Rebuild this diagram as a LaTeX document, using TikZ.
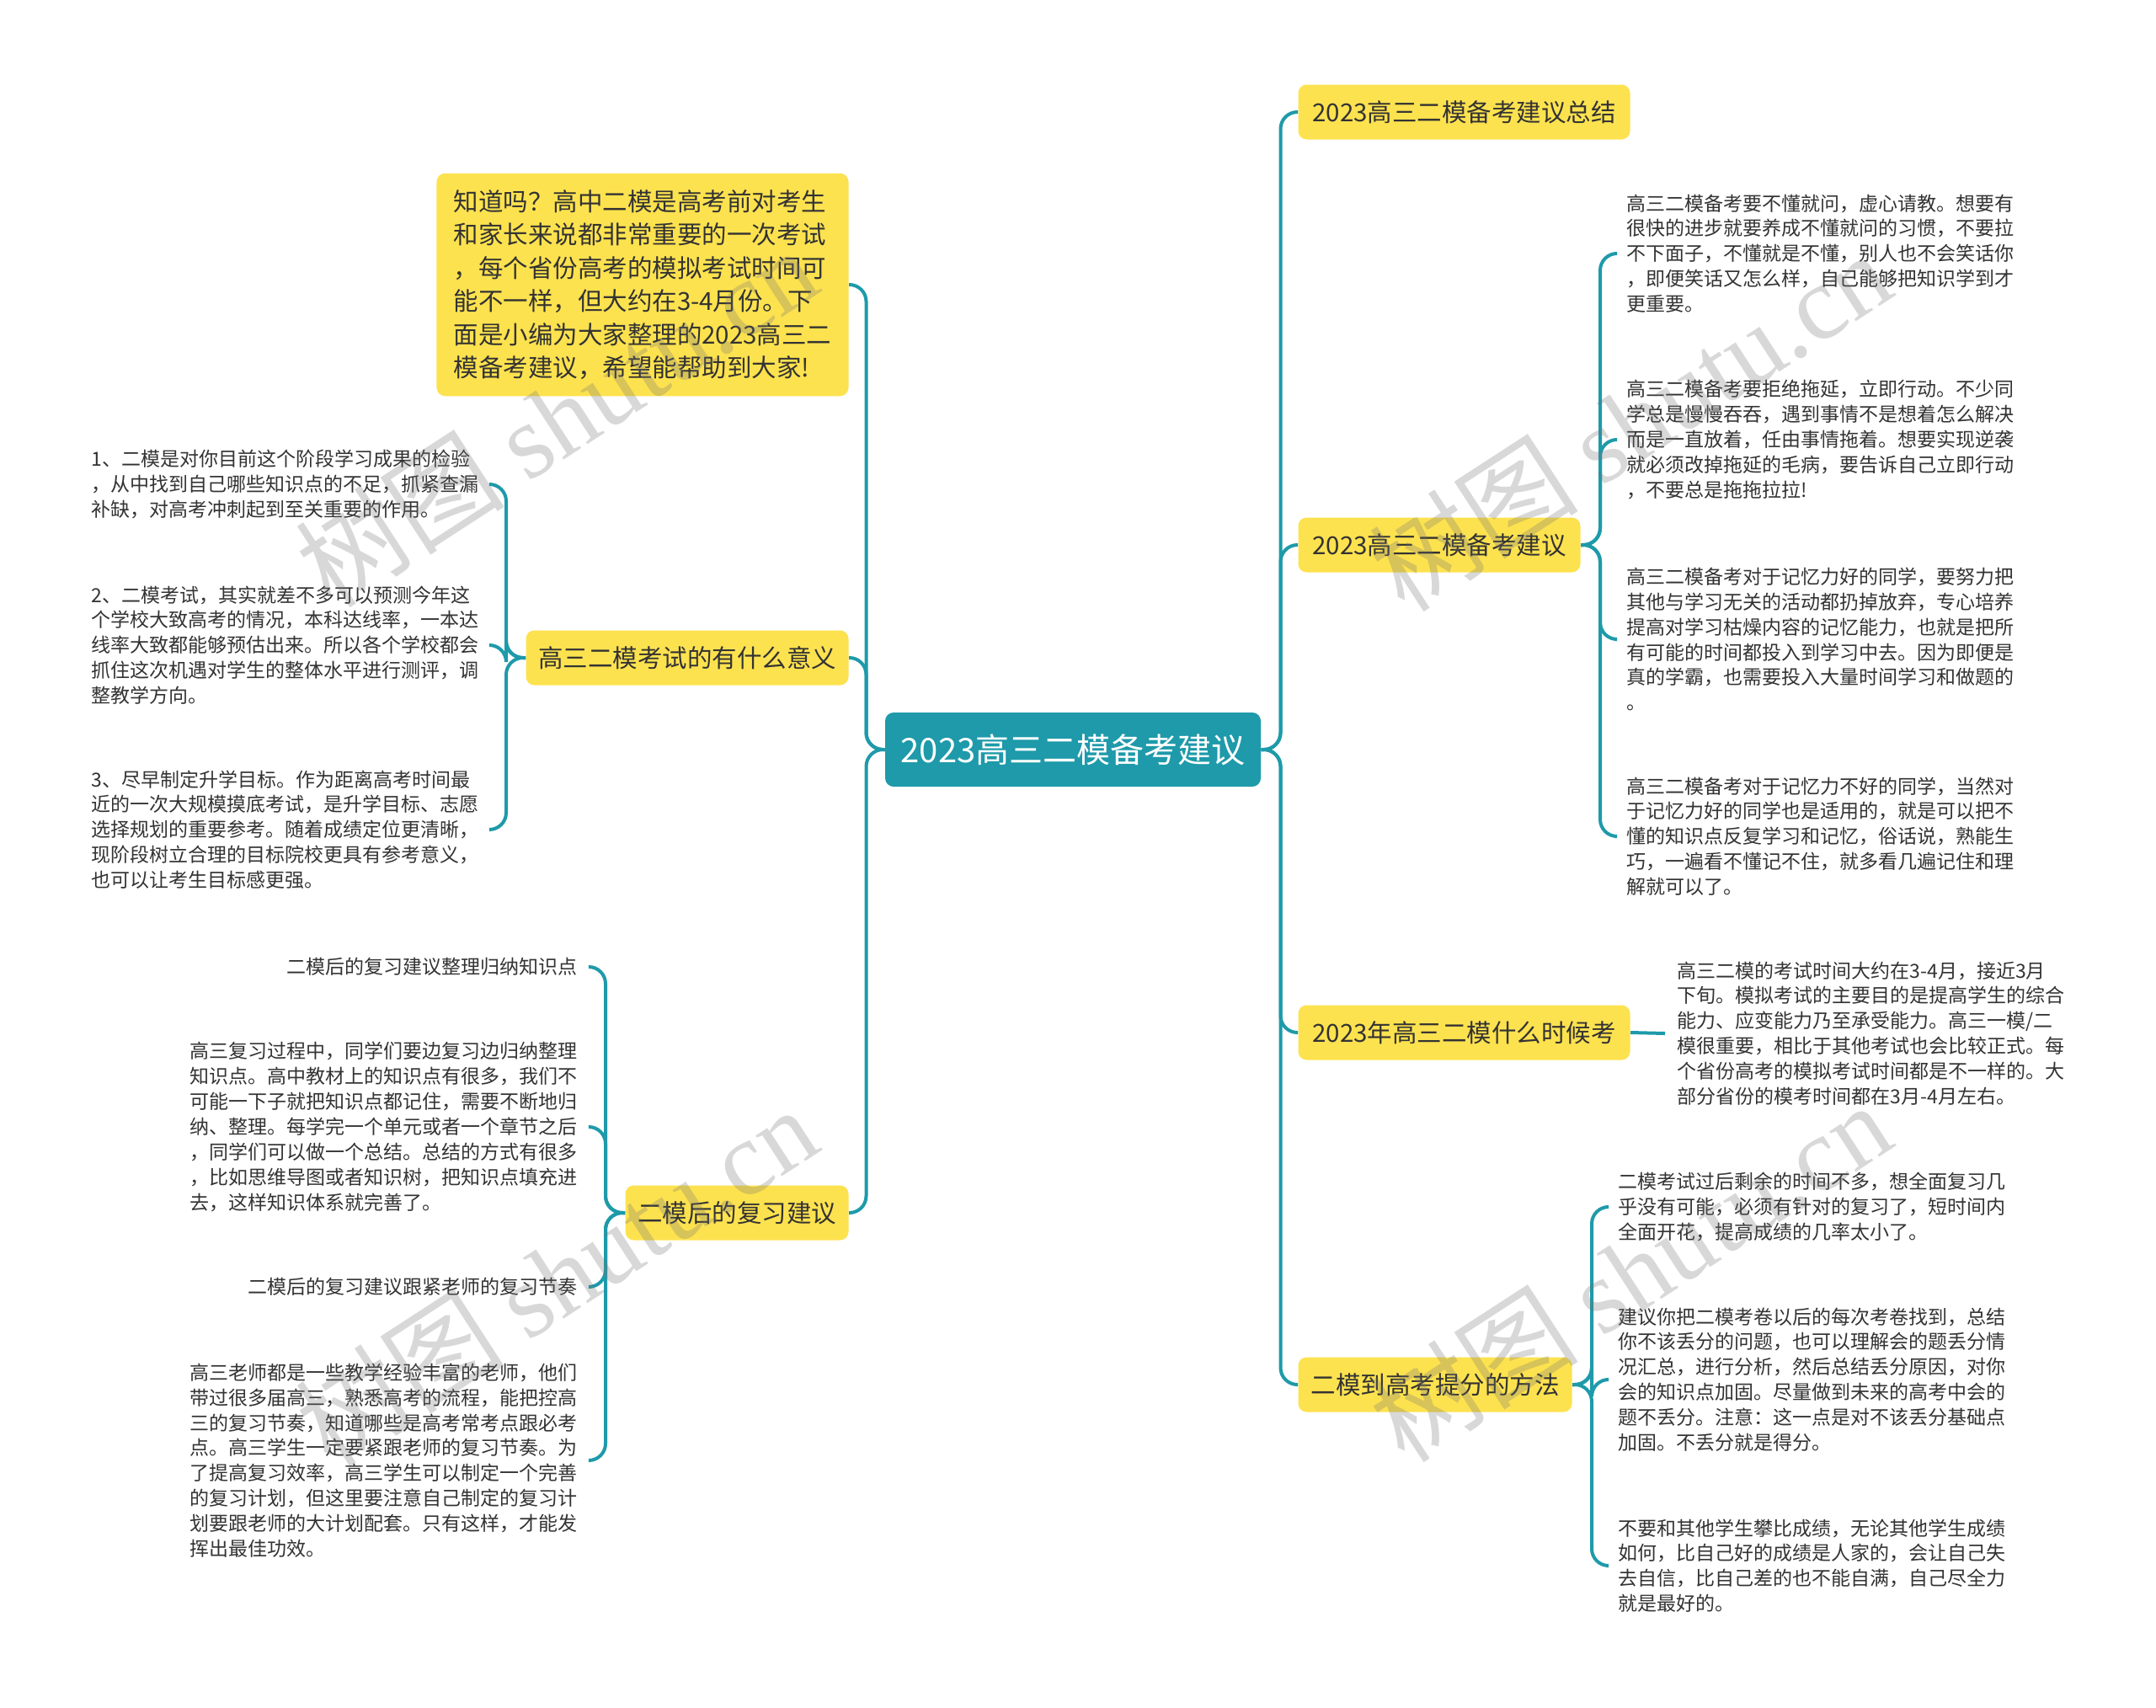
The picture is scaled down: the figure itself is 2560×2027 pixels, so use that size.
\documentclass[tikz,border=0pt]{standalone}
\usepackage{fontspec}
\setmainfont{Noto Sans CJK SC}
\newfontfamily\wmlatin{Liberation Serif}
\definecolor{teal1}{HTML}{1E9AAA}
\definecolor{yel}{HTML}{FDE24F}
\definecolor{txt}{HTML}{333333}
\begin{document}
\begin{tikzpicture}[x=0.4pt,y=-0.4pt,
  centerbox/.style={fill=teal1,text=white,rounded corners=4pt,minimum width=178.4pt,minimum height=35.2pt,font=\fontsize{16pt}{18pt}\selectfont,inner sep=0pt},
  topic/.style={fill=yel,text=txt,rounded corners=4pt,minimum height=26pt,inner xsep=2pt,font=\fontsize{11.8pt}{14pt}\selectfont},
  introbox/.style={fill=yel,text=txt,rounded corners=4pt,align=left,minimum width=195.6pt,minimum height=105.8pt,inner xsep=4pt,inner ysep=4pt,font=\fontsize{11.8pt}{15.8pt}\selectfont},
  leaf/.style={text=txt,align=left,inner xsep=5.6pt,inner ysep=0pt,font=\fontsize{9.2pt}{11.95pt}\selectfont},
  conn/.style={draw=teal1,line width=1.6pt,rounded corners=8pt},
  wm/.style={text=black!55,opacity=0.28,rotate=33,font=\fontsize{50pt}{50pt}\selectfont,inner sep=0pt}
]
\useasboundingbox[fill=white] (0,0) rectangle (2560,2027);

% center
\node[centerbox] (c) at (1274,890) {2023高三二模备考建议};

% left topics
\node[introbox,anchor=east] (intro) at (1008,338) {知道吗？高中二模是高考前对考生\\和家长来说都非常重要的一次考试\\，每个省份高考的模拟考试时间可\\能不一样，但大约在3-4月份。下\\面是小编为大家整理的2023高三二\\模备考建议，希望能帮助到大家!};
\node[topic,anchor=east,minimum width=153.2pt] (yy) at (1008,781) {高三二模考试的有什么意义};
\node[topic,anchor=east,minimum width=106pt] (fx) at (1008,1440) {二模后的复习建议};

% right topics
\node[topic,anchor=west,minimum width=157.6pt] (zj) at (1541,133) {2023高三二模备考建议总结};
\node[topic,anchor=west,minimum width=134pt] (bk) at (1541,647) {2023高三二模备考建议};
\node[topic,anchor=west,minimum width=157.6pt] (sj) at (1541,1226) {2023年高三二模什么时候考};
\node[topic,anchor=west,minimum width=130pt] (tf) at (1541,1644) {二模到高考提分的方法};

% leaves of yy
\node[leaf,anchor=east] (yy1) at (583,575) {1、二模是对你目前这个阶段学习成果的检验\\，从中找到自己哪些知识点的不足，抓紧查漏\\补缺，对高考冲刺起到至关重要的作用。};
\node[leaf,anchor=east] (yy2) at (583,766) {2、二模考试，其实就差不多可以预测今年这\\个学校大致高考的情况，本科达线率，一本达\\线率大致都能够预估出来。所以各个学校都会\\抓住这次机遇对学生的整体水平进行测评，调\\整教学方向。};
\node[leaf,anchor=east] (yy3) at (583,985) {3、尽早制定升学目标。作为距离高考时间最\\近的一次大规模摸底考试，是升学目标、志愿\\选择规划的重要参考。随着成绩定位更清晰，\\现阶段树立合理的目标院校更具有参考意义，\\也可以让考生目标感更强。};

% leaves of fx
\node[leaf,anchor=east] (fx1) at (700,1148) {二模后的复习建议整理归纳知识点};
\node[leaf,anchor=east] (fx2) at (700,1338) {高三复习过程中，同学们要边复习边归纳整理\\知识点。高中教材上的知识点有很多，我们不\\可能一下子就把知识点都记住，需要不断地归\\纳、整理。每学完一个单元或者一个章节之后\\，同学们可以做一个总结。总结的方式有很多\\，比如思维导图或者知识树，把知识点填充进\\去，这样知识体系就完善了。};
\node[leaf,anchor=east] (fx3) at (700,1528) {二模后的复习建议跟紧老师的复习节奏};
\node[leaf,anchor=east] (fx4) at (700,1734) {高三老师都是一些教学经验丰富的老师，他们\\带过很多届高三，熟悉高考的流程，能把控高\\三的复习节奏，知道哪些是高考常考点跟必考\\点。高三学生一定要紧跟老师的复习节奏。为\\了提高复习效率，高三学生可以制定一个完善\\的复习计划，但这里要注意自己制定的复习计\\划要跟老师的大计划配套。只有这样，才能发\\挥出最佳功效。};

% leaves of bk
\node[leaf,anchor=west] (bk1) at (1917,301) {高三二模备考要不懂就问，虚心请教。想要有\\很快的进步就要养成不懂就问的习惯，不要拉\\不下面子，不懂就是不懂，别人也不会笑话你\\，即便笑话又怎么样，自己能够把知识学到才\\更重要。};
\node[leaf,anchor=west] (bk2) at (1917,522) {高三二模备考要拒绝拖延，立即行动。不少同\\学总是慢慢吞吞，遇到事情不是想着怎么解决\\而是一直放着，任由事情拖着。想要实现逆袭\\就必须改掉拖延的毛病，要告诉自己立即行动\\，不要总是拖拖拉拉!};
\node[leaf,anchor=west] (bk3) at (1917,759) {高三二模备考对于记忆力好的同学，要努力把\\其他与学习无关的活动都扔掉放弃，专心培养\\提高对学习枯燥内容的记忆能力，也就是把所\\有可能的时间都投入到学习中去。因为即便是\\真的学霸，也需要投入大量时间学习和做题的\\。};
\node[leaf,anchor=west] (bk4) at (1917,993) {高三二模备考对于记忆力不好的同学，当然对\\于记忆力好的同学也是适用的，就是可以把不\\懂的知识点反复学习和记忆，俗话说，熟能生\\巧，一遍看不懂记不住，就多看几遍记住和理\\解就可以了。};

% leaf of sj
\node[leaf,anchor=west] (sj1) at (1977,1227) {高三二模的考试时间大约在3-4月，接近3月\\下旬。模拟考试的主要目的是提高学生的综合\\能力、应变能力乃至承受能力。高三一模/二\\模很重要，相比于其他考试也会比较正式。每\\个省份高考的模拟考试时间都是不一样的。大\\部分省份的模考时间都在3月-4月左右。};

% leaves of tf
\node[leaf,anchor=west] (tf1) at (1907,1433) {二模考试过后剩余的时间不多，想全面复习几\\乎没有可能，必须有针对的复习了，短时间内\\全面开花，提高成绩的几率太小了。};
\node[leaf,anchor=west] (tf2) at (1907,1638) {建议你把二模考卷以后的每次考卷找到，总结\\你不该丢分的问题，也可以理解会的题丢分情\\况汇总，进行分析，然后总结丢分原因，对你\\会的知识点加固。尽量做到未来的高考中会的\\题不丢分。注意：这一点是对不该丢分基础点\\加固。不丢分就是得分。};
\node[leaf,anchor=west] (tf3) at (1907,1859) {不要和其他学生攀比成绩，无论其他学生成绩\\如何，比自己好的成绩是人家的，会让自己失\\去自信，比自己差的也不能自满，自己尽全力\\就是最好的。};

% connectors: center to topics
\foreach \t in {intro,yy,fx}
  \draw[conn] (c.west) -- ++(-22,0) |- (\t.east);
\foreach \t in {zj,bk,sj,tf}
  \draw[conn] (c.east) -- ++(23,0) |- (\t.west);

% topic to leaves
\foreach \l in {yy1,yy2,yy3}
  \draw[conn] (yy.west) -- ++(-23,0) |- (\l.east);
\foreach \l in {fx1,fx2,fx3,fx4}
  \draw[conn] (fx.west) -- ++(-23,0) |- (\l.east);
\foreach \l in {bk1,bk2,bk3,bk4}
  \draw[conn] (bk.east) -- ++(23,0) |- (\l.west);
\draw[conn] (sj.east) -- (sj1.west);
\foreach \l in {tf1,tf2,tf3}
  \draw[conn] (tf.east) -- ++(23,0) |- (\l.west);

% watermarks
\node[wm] (wm1) at (660,495) {树图 {\wmlatin shutu.cn}};
\node[wm] (wm2) at (1935,500) {树图 {\wmlatin shutu.cn}};
\node[wm] (wm3) at (660,1515) {树图 {\wmlatin shutu.cn}};
\node[wm] (wm4) at (1935,1510) {树图 {\wmlatin shutu.cn}};
\end{tikzpicture}
\end{document}
